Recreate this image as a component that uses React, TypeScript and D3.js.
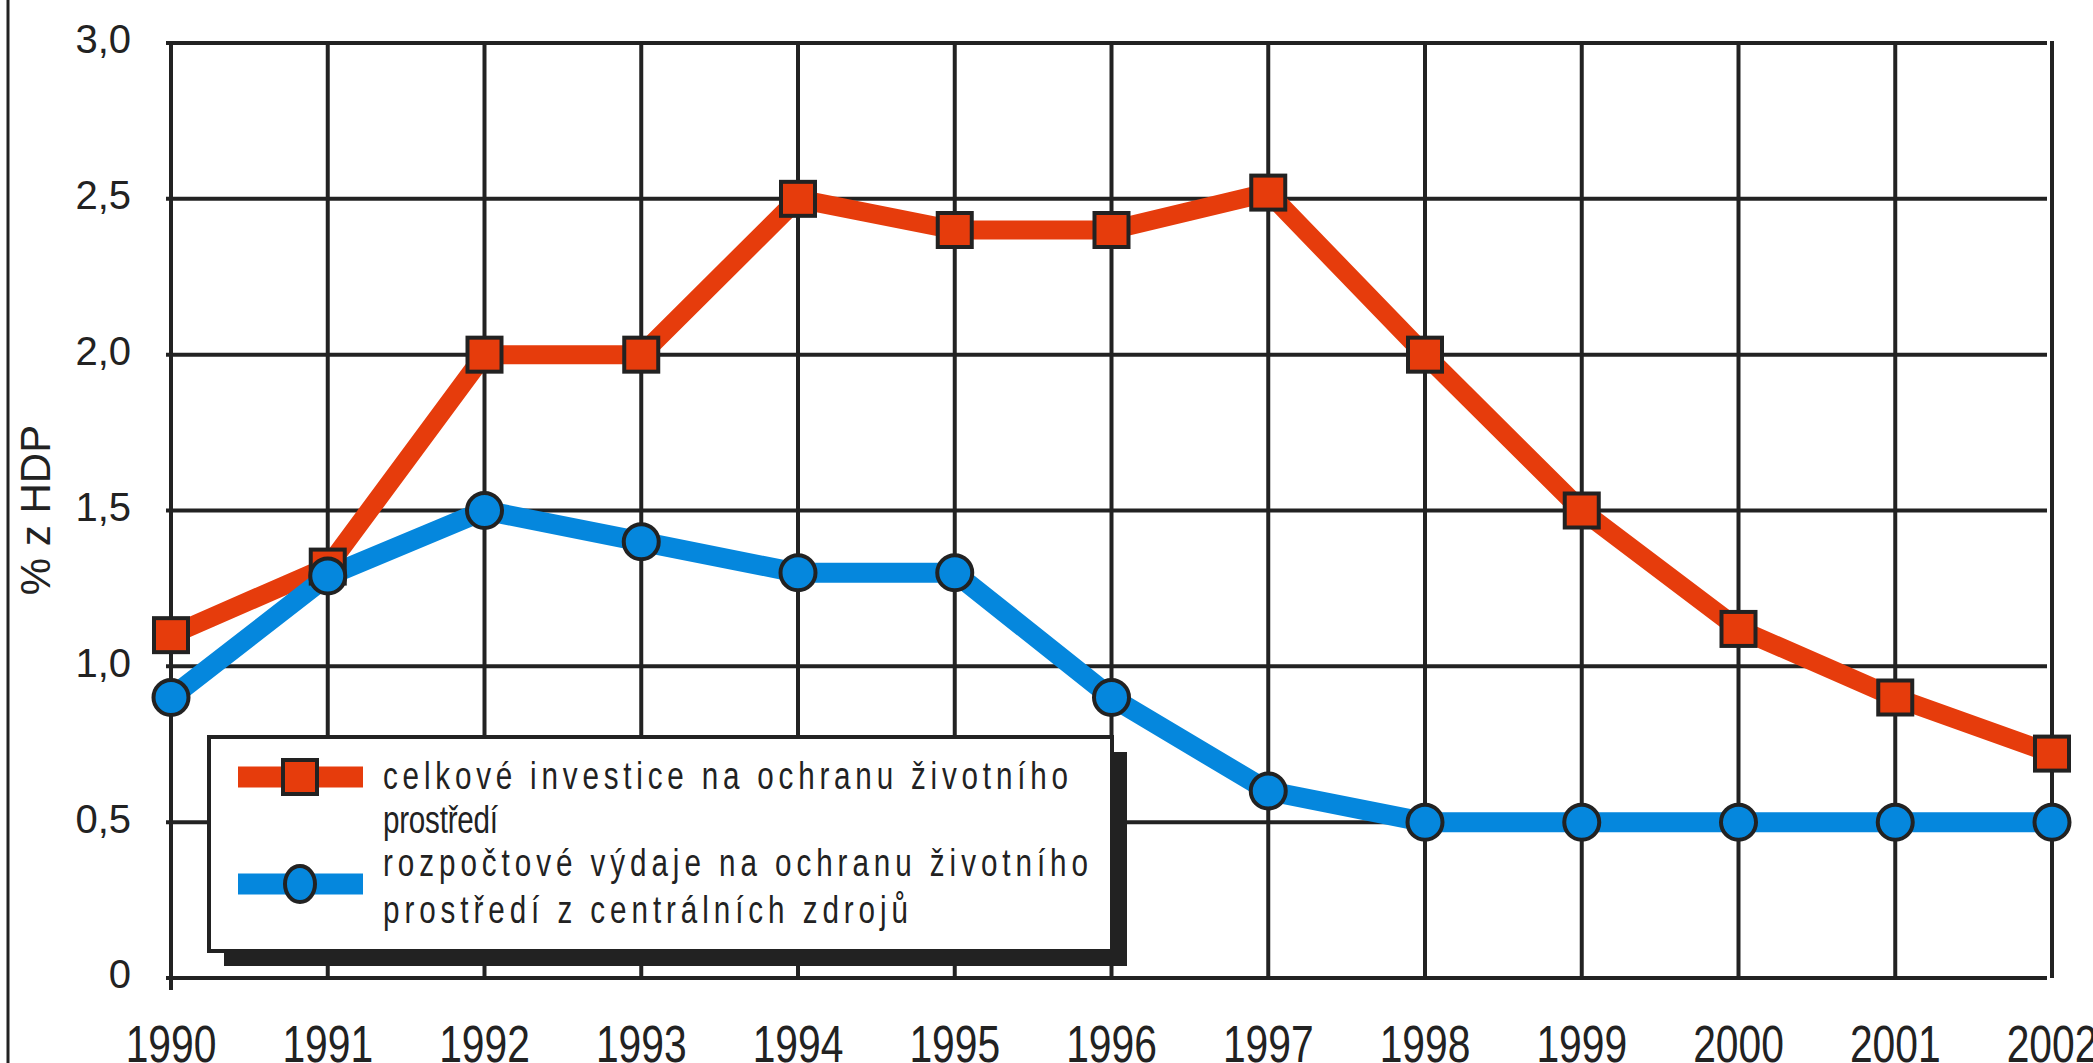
import * as d3 from "d3";

// roky a hodnoty (% HDP)
const years = [1990, 1991, 1992, 1993, 1994, 1995, 1996, 1997, 1998, 1999, 2000, 2001, 2002];
const investice = [1.1, 1.32, 2.0, 2.0, 2.5, 2.4, 2.4, 2.52, 2.0, 1.5, 1.12, 0.9, 0.72];
const rozpocet = [0.9, 1.29, 1.5, 1.4, 1.3, 1.3, 0.9, 0.6, 0.5, 0.5, 0.5, 0.5, 0.5];
const yTicks = [0, 0.5, 1, 1.5, 2, 2.5, 3];
const legendRed = ["celkové investice na ochranu životního", "prostředí"];
const legendBlue = ["rozpočtové výdaje na ochranu životního", "prostředí z centrálních zdrojů"];
const yTitle = "% z HDP";

const W = 2093;
const H = 1063;
const RED = "#e63c0c";
const BLUE = "#0587dd";
const INK = "#222";
const FONT = "'Liberation Sans', Arial, sans-serif";

export default function App() {
  const x = d3.scaleLinear().domain([1990, 2002]).range([171, 2052]);
  const y = d3.scaleLinear().domain([0, 3]).range([978, 43]);

  const line = d3
    .line<number>()
    .x((_, i) => x(years[i]))
    .y((d) => y(d));

  const fmt = (v: number) => (v === 0 ? "0" : v.toFixed(1).replace(".", ","));

  // legenda
  const lg = { x: 209, y: 737, w: 903, h: 214, shadow: 15 };
  const squeeze = 0.76; // úzké písmo legendy
  const legendRows = [789, 833, 876, 923];
  const legendWidths = [685, 115, 705, 525];

  return (
    <svg
      width={W}
      height={H}
      style={{ position: "absolute", left: 0, top: 0, background: "#fff" }}
      fontFamily={FONT}
    >
      <rect width={W} height={H} fill="#fff" />
      <line x1={8} x2={8} y1={0} y2={H} stroke={INK} strokeWidth={3} />

      {/* mřížka */}
      {yTicks.map((t) => (
        <line key={"h" + t} x1={166} x2={2047} y1={y(t)} y2={y(t)} stroke={INK} strokeWidth={4} />
      ))}
      {years.slice(1, -1).map((yr) => (
        <line key={"v" + yr} x1={x(yr)} x2={x(yr)} y1={y(3)} y2={y(0)} stroke={INK} strokeWidth={4} />
      ))}
      <line x1={x(1990)} x2={x(1990)} y1={y(3) - 2} y2={990} stroke={INK} strokeWidth={4} />
      <line x1={x(2002)} x2={x(2002)} y1={y(3) - 2} y2={y(0)} stroke={INK} strokeWidth={4} />

      {/* popisky osy y */}
      {yTicks.map((t) => (
        <text
          key={"yl" + t}
          x={131}
          y={y(t) - 4}
          dy="0.36em"
          textAnchor="end"
          fontSize={40}
          fill={INK}
        >
          {fmt(t)}
        </text>
      ))}
      <text
        transform={`translate(50, 510) rotate(-90)`}
        textAnchor="middle"
        fontSize={42}
        fill={INK}
      >
        {yTitle}
      </text>

      {/* popisky osy x */}
      {years.map((yr) => (
        <text
          key={"xl" + yr}
          transform={`translate(${x(yr)}, 1062) scale(1.02, 1.3)`}
          textAnchor="middle"
          fontSize={40}
          fill={INK}
        >
          {yr}
        </text>
      ))}

      {/* řady */}
      <path d={line(investice) || ""} fill="none" stroke={RED} strokeWidth={19} strokeLinejoin="round" />
      <path d={line(rozpocet) || ""} fill="none" stroke={BLUE} strokeWidth={20} strokeLinejoin="round" />
      {investice.map((v, i) => (
        <rect
          key={"r" + i}
          x={x(years[i]) - 17}
          y={y(v) - 17}
          width={34}
          height={34}
          fill={RED}
          stroke={INK}
          strokeWidth={4}
        />
      ))}
      {rozpocet.map((v, i) => (
        <circle key={"c" + i} cx={x(years[i])} cy={y(v)} r={17.5} fill={BLUE} stroke={INK} strokeWidth={4} />
      ))}

      {/* legenda */}
      <rect x={lg.x + lg.shadow} y={lg.y + lg.shadow} width={lg.w} height={lg.h} fill={INK} />
      <rect x={lg.x} y={lg.y} width={lg.w} height={lg.h} fill="#fff" stroke={INK} strokeWidth={4} />
      <line x1={238} x2={363} y1={777} y2={777} stroke={RED} strokeWidth={21} />
      <rect x={283} y={760} width={34} height={34} fill={RED} stroke={INK} strokeWidth={4} />
      <line x1={238} x2={363} y1={884} y2={884} stroke={BLUE} strokeWidth={21} />
      <ellipse cx={300} cy={884} rx={15} ry={18} fill={BLUE} stroke={INK} strokeWidth={4} />
      {[...legendRed, ...legendBlue].map((s, i) => (
        <text
          key={"lt" + i}
          transform={`translate(383, ${legendRows[i]}) scale(${squeeze}, 1)`}
          fontSize={39}
          fill={INK}
          textLength={legendWidths[i] / squeeze}
          lengthAdjust="spacing"
        >
          {s}
        </text>
      ))}
    </svg>
  );
}
